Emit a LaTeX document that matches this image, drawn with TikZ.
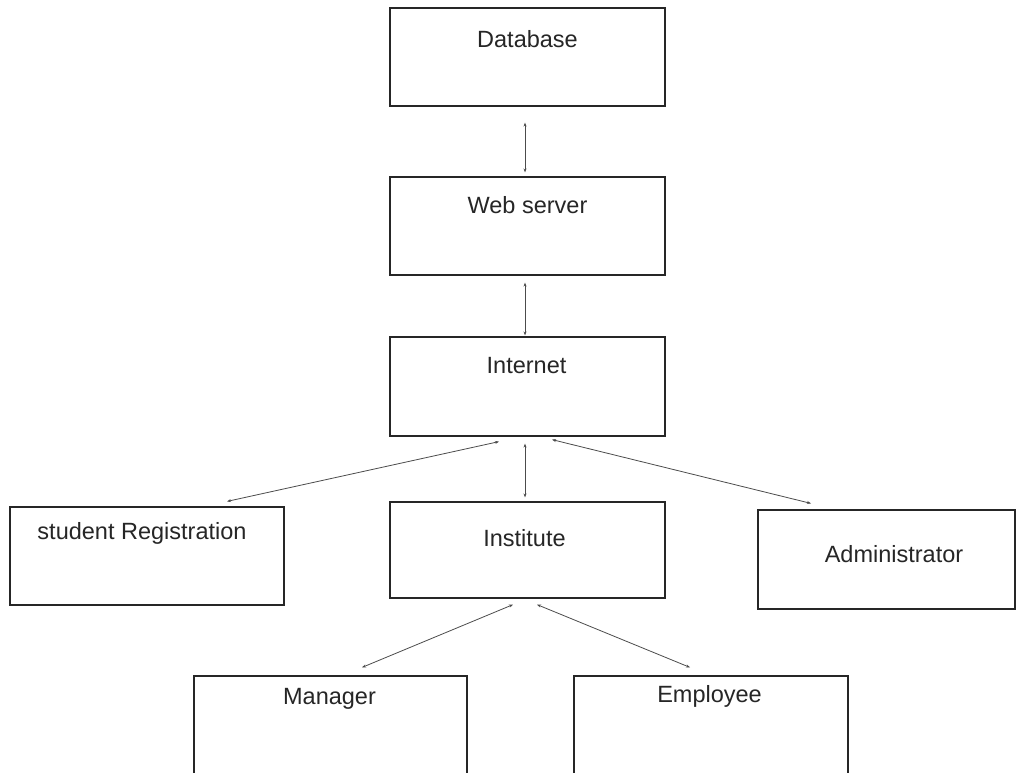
\documentclass[tikz,border=0pt]{standalone}
\usepackage{fontspec}
\setmainfont{Liberation Sans}
\usetikzlibrary{arrows.meta,calc}
\tikzset{
  box/.style={draw=black!85, line width=1.2pt, rectangle, inner sep=0pt},
  lbl/.style={inner sep=0pt, anchor=base, font=\fontsize{23.5}{28}\selectfont, text=black!85},
  conn/.style={draw=black!70, line width=0.8pt, {Stealth[length=4pt,width=3pt]}-{Stealth[length=4pt,width=3pt]}}
}
\begin{document}
\begin{tikzpicture}[x=1pt,y=-1pt]
\useasboundingbox (0,0) rectangle (1024,772);
\clip (0,0) rectangle (1024,772);
\fill[white] (0,0) rectangle (1024,772);
% boxes
\node[box, minimum width=275pt, minimum height=98pt] (db) at (527.5,57) {};
\node[box, minimum width=275pt, minimum height=98pt] (web) at (527.5,226) {};
\node[box, minimum width=275pt, minimum height=99pt] (inet) at (527.5,386.5) {};
\node[box, minimum width=274pt, minimum height=98pt] (stud) at (147,556) {};
\node[box, minimum width=275pt, minimum height=96pt] (inst) at (527.5,550) {};
\node[box, minimum width=257pt, minimum height=99pt] (admin) at (886.5,559.5) {};
\node[box, minimum width=273pt, minimum height=100pt] (man) at (330.5,726) {};
\node[box, minimum width=274pt, minimum height=100pt] (emp) at (711,726) {};
% labels
\node[lbl] (dbt) at ($(db.north)+(0,40)$) {Database};
\node[lbl] (webt) at ($(web.north)+(0,37)$) {Web server};
\node[lbl] (inett) at ($(inet.north)+(-1,37)$) {Internet};
\node[lbl] (studt) at ($(stud.north)+(-5,33)$) {student Registration};
\node[lbl] (instt) at ($(inst.north)+(-3,45)$) {Institute};
\node[lbl] (admint) at ($(admin.north)+(7.5,53)$) {Administrator};
\node[lbl] (mant) at ($(man.north)+(-1,29)$) {Manager};
\node[lbl] (empt) at ($(emp.north)+(-1.5,27)$) {Employee};
% connectors
\draw[conn] ($(db.south)+(-2.5,16)$) -- ($(web.north)+(-2.5,-4)$);
\draw[conn] ($(web.south)+(-2.5,7)$) -- ($(inet.north)+(-2.5,-1)$);
\draw[conn] ($(inet.south)+(-2.5,7)$) -- ($(inst.north)+(-2.5,-4)$);
\draw[conn] ($(inet.south)+(-28.5,5)$) -- ($(stud.north)+(80,-5)$);
\draw[conn] ($(inet.south)+(24.5,3)$) -- ($(admin.north)+(-75.5,-6)$);
\draw[conn] ($(inst.south)+(-14.5,6)$) -- ($(man.north)+(31.5,-8)$);
\draw[conn] ($(inst.south)+(9.5,6)$) -- ($(emp.north)+(-21,-8)$);
\end{tikzpicture}
\end{document}
